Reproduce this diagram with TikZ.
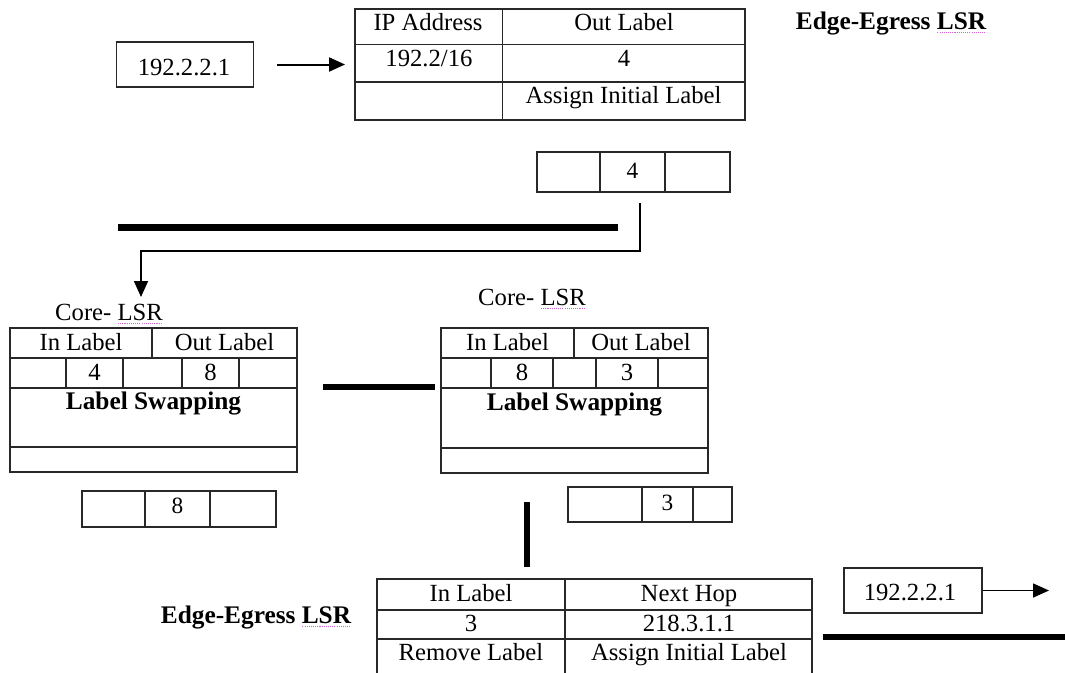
\documentclass[tikz,border=0pt]{standalone}
\usepackage{fontspec}
\setmainfont{Liberation Serif}
\usetikzlibrary{arrows.meta}
\definecolor{spell}{RGB}{214,96,214}
\definecolor{rule}{RGB}{40,40,40}
% dotted proofing mark under a word
\newcommand\spellmark[1]{\setbox0\hbox{#1}\rlap{\raisebox{-3.2pt}{\textcolor{spell}{\leaders\hbox to 1.6pt{\hss\rule{0.8pt}{0.8pt}\hss}\hskip\wd0}}}\box0}

\begin{document}
\begin{tikzpicture}[x=0.75pt,y=-0.75pt,
  cellbox/.style 2 args={draw=rule, line width=0.95pt, inner sep=0pt,
    minimum width=#1*0.75pt, minimum height=#2*0.75pt},
  grid/.style={draw=rule, line width=0.95pt},
  txt/.style={inner sep=0pt, anchor=base, font=\fontsize{18.5}{22}\selectfont},
  head/.style={inner sep=0pt, anchor=base, font=\fontsize{19}{22}\selectfont\bfseries},
  digit/.style={inner sep=0pt, anchor=base, font=\fontsize{17.5}{20}\selectfont},
  link/.style={line width=#1, line cap=butt},
  arrowline/.style={draw=black, line width=1.5pt, -{Triangle[length=12pt,width=10.5pt]}},
]
\clip (0,0) rectangle (1065,672);
\fill[white] (0,0) rectangle (1065,672);

% ---------------- ingress side ----------------
\node[cellbox={137}{45}] (ipin) at (184.8,64.5) {};
\node[txt] (ipin-t) at (184,75) {192.2.2.1};

\node[cellbox={390}{111}] (ftnA) at (550,64.5) {};
\draw[grid] (355,44.3) -- (745,44.3) (355,82) -- (745,82) (502.8,9) -- (502.8,120);
\node[txt] (ftnA-h1) at (428,30) {IP Address};
\node[txt] (ftnA-h2) at (624,30) {Out Label};
\node[txt] (ftnA-a1) at (429,66.7) {192.2/16};
\node[txt] (ftnA-a2) at (624,66.7) {4};
\node[txt] (ftnA-b2) at (623.5,103) {Assign Initial Label};

\draw[arrowline, shorten <=17.5pt, shorten >=7pt] (ipin.east) -- (ipin.east -| ftnA.west);

\node[head] (edgeA) at (891,29) {Edge-Egress \spellmark{LSR}};

% outgoing labelled packet
\node[cellbox={193}{40}] (pkA) at (633.5,172) {};
\draw[grid] (600,152) -- (600,192) (665,152) -- (665,192);
\node[digit] (pkA-l) at (632.5,178) {4};

% link towards the first core router
\coordinate (linkA1) at (118,227);
\coordinate (linkA2) at (618,227);
\draw[link=5.25pt] (linkA1) -- (linkA2);

\coordinate (tapA) at (640,203);
\coordinate (bendA) at (141,251);
\coordinate (dropA) at (141,297);
\draw[arrowline, line width=1.2pt] (tapA) |- (bendA) -- (dropA);

% ---------------- first core router ----------------
\node[txt] (coreA-lbl) at (109,320) {Core- \spellmark{LSR}};
\node[cellbox={287}{144}] (coreA) at (153.5,400) {};
\draw[grid] (10,358) -- (297,358) (10,388) -- (297,388) (10,447) -- (297,447)
  (152,328) -- (152,358)
  (66,358) -- (66,388) (123,358) -- (123,388) (182,358) -- (182,388) (239,358) -- (239,388);
\node[txt] (coreA-h1) at (81,350) {In Label};
\node[txt] (coreA-h2) at (224.5,350) {Out Label};
\node[txt] (coreA-in) at (94.5,380) {4};
\node[txt] (coreA-out) at (210.5,380) {8};
\node[head] (coreA-op) at (153.5,409) {Label Swapping};

\node[cellbox={194}{36}] (pkB) at (179,509) {};
\draw[grid] (145,491) -- (145,527) (210,491) -- (210,527);
\node[digit] (pkB-l) at (177.5,513) {8};

% link between the core routers
\coordinate (linkB1) at (323,387);
\coordinate (linkB2) at (435,387);
\draw[link=4.5pt] (linkB1) -- (linkB2);

% ---------------- second core router ----------------
\node[txt] (coreB-lbl) at (532,305) {Core- \spellmark{LSR}};
\node[cellbox={267}{145}] (coreB) at (574.5,400.5) {};
\draw[grid] (441,358) -- (708,358) (441,388) -- (708,388) (441,448) -- (708,448)
  (574,328) -- (574,358)
  (491,358) -- (491,388) (553,358) -- (553,388) (596,358) -- (596,388) (658,358) -- (658,388);
\node[txt] (coreB-h1) at (507.5,350) {In Label};
\node[txt] (coreB-h2) at (641,350) {Out Label};
\node[txt] (coreB-in) at (522,380) {8};
\node[txt] (coreB-out) at (627,380) {3};
\node[head] (coreB-op) at (574.5,410) {Label Swapping};

\node[cellbox={164}{35}] (pkC) at (650,504.5) {};
\draw[grid] (642,487) -- (642,522) (693,487) -- (693,522);
\node[digit] (pkC-l) at (667.5,510) {3};

% link down to the egress router
\coordinate (linkC1) at (527,502);
\coordinate (linkC2) at (527,567);
\draw[link=3.9pt] (linkC1) -- (linkC2);

% ---------------- egress side ----------------
\node[head] (edgeC) at (256,623) {Edge-Egress \spellmark{LSR}};
\node[cellbox={435}{121}] (ftnC) at (594.5,639.5) {};
\draw[grid] (377,610) -- (812,610) (377,639) -- (812,639) (565,579) -- (565,700);
\node[txt] (ftnC-h1) at (471,601) {In Label};
\node[txt] (ftnC-h2) at (689,601) {Next Hop};
\node[txt] (ftnC-a1) at (471,631) {3};
\node[txt] (ftnC-a2) at (689,631) {218.3.1.1};
\node[txt] (ftnC-b1) at (471,660) {Remove Label};
\node[txt] (ftnC-b2) at (689,660) {Assign Initial Label};

\node[cellbox={138}{45}] (ipout) at (913,590.5) {};
\node[txt] (ipout-t) at (910,600) {192.2.2.1};
\coordinate (exitC) at (1049,590.5);
\draw[arrowline, line width=1.2pt] (ipout.east) -- (exitC);

\coordinate (linkD1) at (823,637);
\coordinate (linkD2) at (1070,637);
\draw[link=3.9pt] (linkD1) -- (linkD2);
\end{tikzpicture}
\end{document}
